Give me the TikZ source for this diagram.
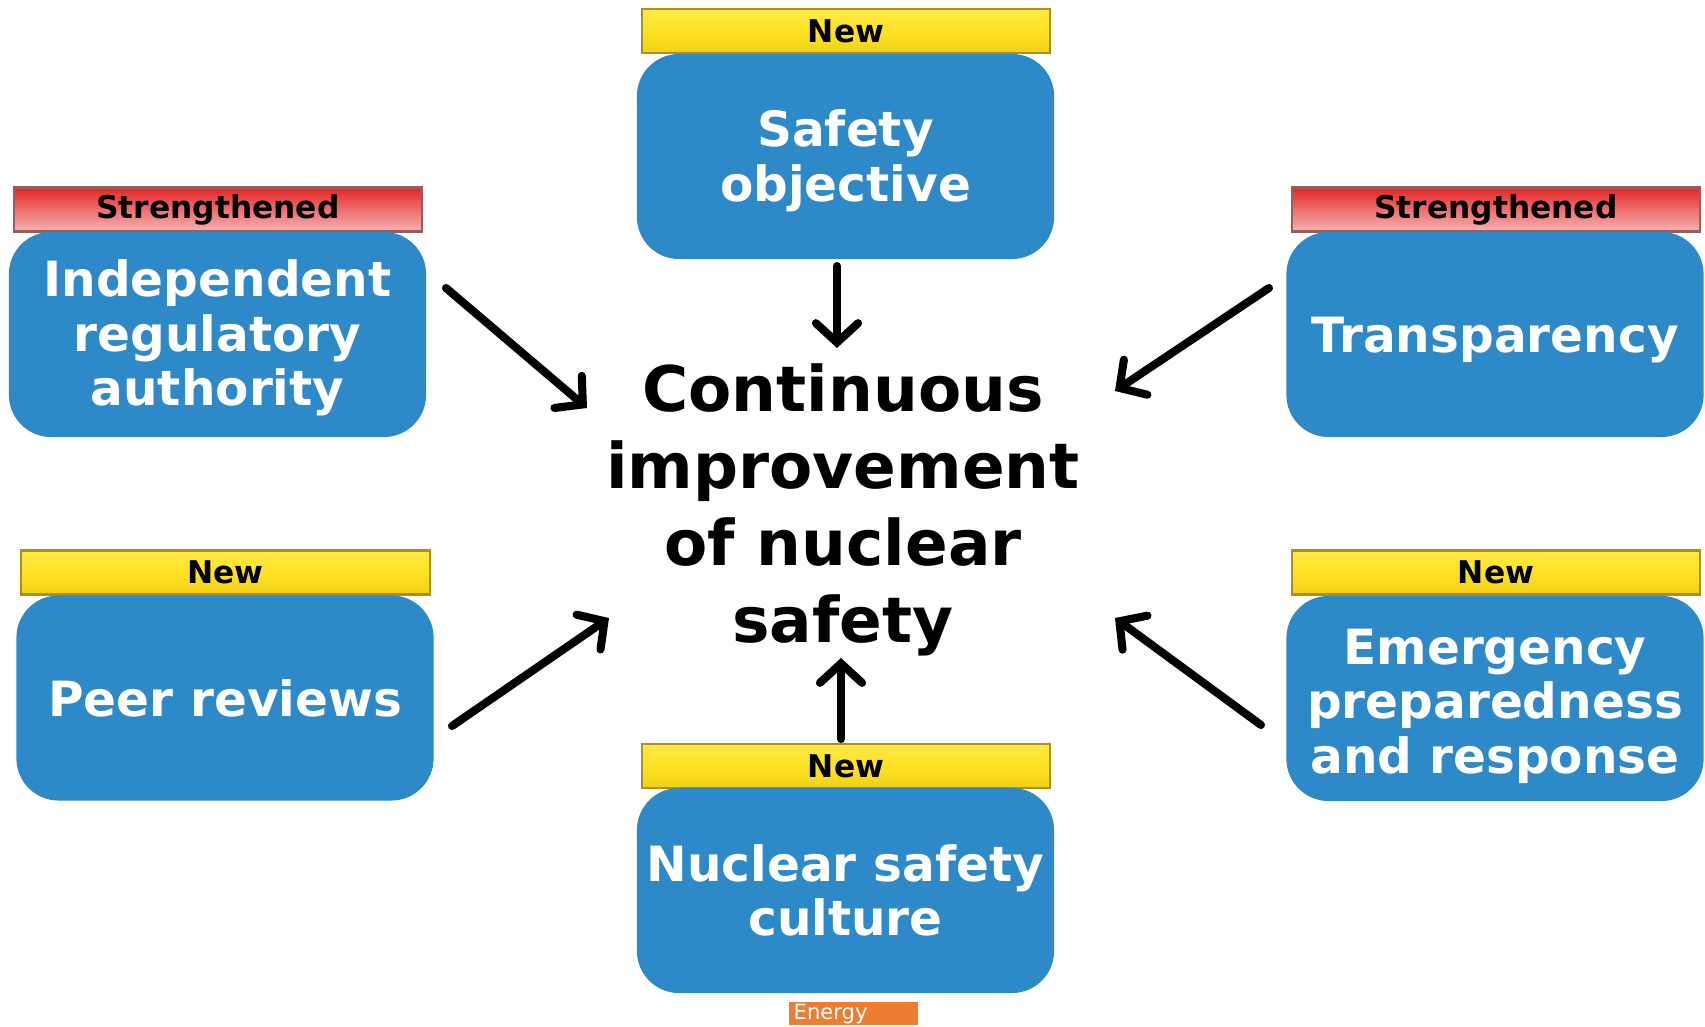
\documentclass[tikz,border=0pt]{standalone}
\usepackage{fontspec}
\setmainfont{DejaVu Sans}
\usepackage{tikz}
\usetikzlibrary{arrows.meta}

\definecolor{boxblue}{RGB}{46,137,201}
\definecolor{newtop}{RGB}{255,234,70}
\definecolor{newmid}{RGB}{255,226,36}
\definecolor{newbot}{RGB}{240,208,24}
\definecolor{newline}{RGB}{170,145,30}
\definecolor{strtop}{RGB}{228,36,36}
\definecolor{strmid}{RGB}{238,110,110}
\definecolor{strbot}{RGB}{248,178,178}
\definecolor{strline}{RGB}{150,95,95}
\definecolor{energyorange}{RGB}{237,125,49}

\newcommand{\lift}[1]{\rule{0pt}{#1}}

\tikzset{
	box/.style={fill=boxblue, rounded corners=12pt, minimum width=4.17cm, minimum height=2.05cm,
		align=center, text=white, font=\fontsize{13.8}{15.5}\selectfont\bfseries, inner sep=0pt},
	tagnew/.style={top color=newtop, bottom color=newbot, middle color=newmid, draw=newline, line width=0.6pt,
		minimum width=4.08cm, minimum height=0.44cm, inner sep=0pt, font=\fontsize{8.9}{10}\selectfont\bfseries},
	tagstr/.style={top color=strtop, bottom color=strbot, middle color=strmid, draw=strline, line width=0.6pt,
		minimum width=4.08cm, minimum height=0.44cm, inner sep=0pt, font=\fontsize{8.9}{10}\selectfont\bfseries},
	arr/.style={line width=2.3pt, line cap=round, -{Straight Barb[length=5.5pt,width=12pt,line cap=round]}}
}

\begin{document}
\begin{tikzpicture}[x=0.01cm, y=0.01cm]

	\useasboundingbox (0,0) rectangle (1705,1026);

	\node[tagnew] (objtag) at (846,995) {New};
	\node[box] (obj) at (845.5,869.5) {\lift{13pt}Safety\\objective};

	\node[tagstr] (iratag) at (218,816.5) {Strengthened};
	\node[box] (ira) at (217.5,691.5) {\lift{12.4pt}Independent\\regulatory\\authority};

	\node[tagstr] (transtag) at (1496,816.5) {Strengthened};
	\node[box] (trans) at (1495,691.5) {\lift{13pt}Transparency};

	\node[tagnew] (peertag) at (225.5,453.5) {New};
	\node[box] (peer) at (225,328) {Peer reviews};

	\node[tagnew] (emertag) at (1496,453.5) {New};
	\node[box] (emer) at (1495,327.5) {\lift{14.4pt}Emergency\\preparedness\\and response};

	\node[tagnew] (culttag) at (846,260) {New};
	\node[box] (cult) at (845.5,135.5) {Nuclear safety\\culture};

	\node[align=center, font=\fontsize{17.9}{21.9}\selectfont\bfseries] (goal) at (843,516)
		{Continuous\\improvement\\of nuclear\\safety};

	\node[anchor=south west, fill=energyorange, text=white, minimum height=0.23cm, text width=1.19cm,
		inner xsep=0.05cm, inner ysep=0pt, align=left, font=\fontsize{6}{6.5}\selectfont] (energy) at (788,0) {Energy};

	% arrow ends
	\coordinate (nA) at (837,760);   \coordinate (nB) at (837,678);
	\coordinate (nwA) at (446,738);  \coordinate (nwB) at (587,618);
	\coordinate (neA) at (1269,738); \coordinate (neB) at (1115,635);
	\coordinate (swA) at (452,300);  \coordinate (swB) at (609,408);
	\coordinate (seA) at (1261,301); \coordinate (seB) at (1115,408);
	\coordinate (sA) at (841,287);   \coordinate (sB) at (841,368);

	\draw[arr] (nA) -- (nB);
	\draw[arr] (nwA) -- (nwB);
	\draw[arr] (neA) -- (neB);
	\draw[arr] (swA) -- (swB);
	\draw[arr] (seA) -- (seB);
	\draw[arr] (sA) -- (sB);
\end{tikzpicture}
\end{document}
